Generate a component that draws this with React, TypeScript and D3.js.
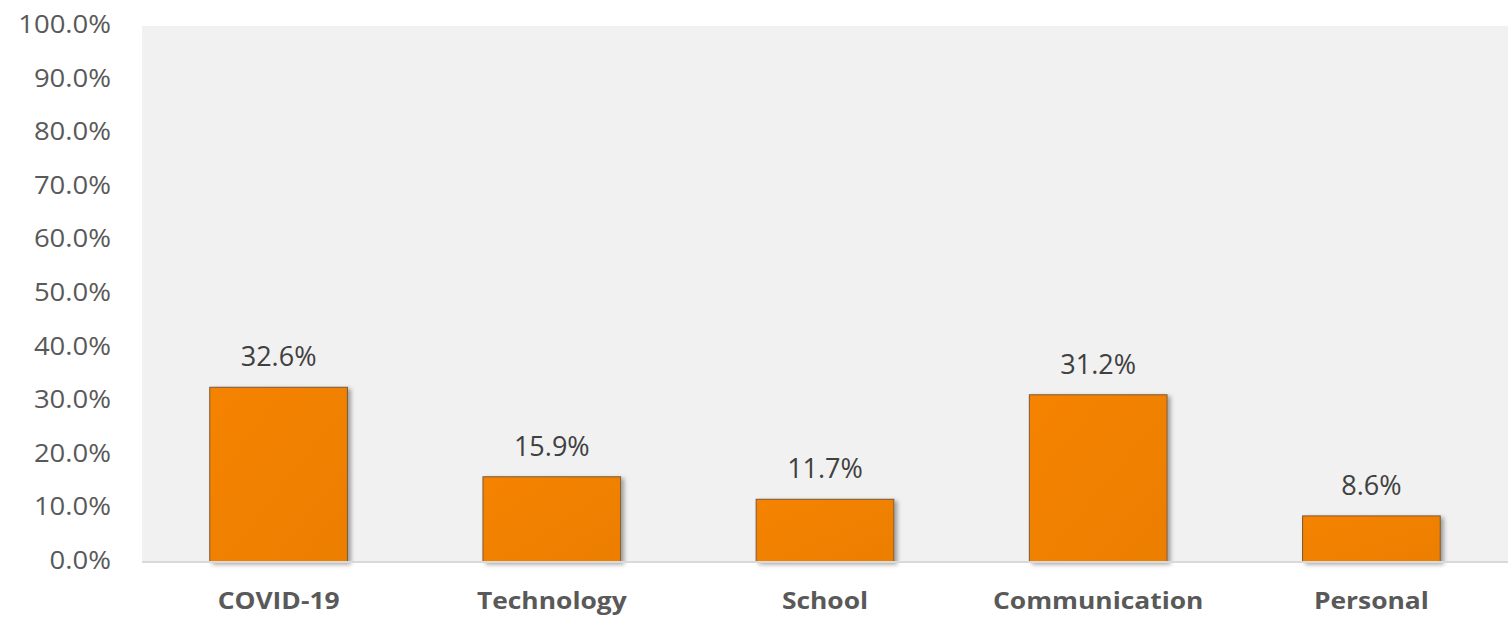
import React from "react";
import * as d3 from "d3";

const categories = ["COVID-19", "Technology", "School", "Communication", "Personal"];
const values = [32.6, 15.9, 11.7, 31.2, 8.6];
const yTicks = [0, 10, 20, 30, 40, 50, 60, 70, 80, 90, 100];

const W = 1508;
const H = 618;
const left = 142;
const right = 1508;
const top = 26;
const bottom = 562;

export default function App() {
  const x = d3.scaleBand<string>().domain(categories).range([left, right]).paddingInner(0.496).paddingOuter(0.248);
  const y = d3.scaleLinear().domain([0, 100]).range([bottom, top]);
  const font = "'Open Sans', 'Liberation Sans', sans-serif";
  return (
    <svg width={W} height={H} style={{ position: "absolute", left: 0, top: 0 }} fontFamily={font}>
      <defs>
        <linearGradient id="barGrad" x1="0" y1="0" x2="1" y2="1">
          <stop offset="0%" stopColor="#F58300" />
          <stop offset="100%" stopColor="#EC7E00" />
        </linearGradient>
        <filter id="shadow" x="-10%" y="-10%" width="130%" height="130%">
          <feDropShadow dx="3" dy="2" stdDeviation="2" floodColor="#000" floodOpacity="0.35" />
        </filter>
      </defs>
      <rect x={0} y={0} width={W} height={H} fill="#ffffff" />
      <rect x={left} y={top} width={right - left} height={bottom - top} fill="#F1F1F1" />
      {yTicks.map((t) => (
        <text
          key={t}
          transform={`translate(111,${y(t) + 7}) scale(1.1,1)`}
          textAnchor="end"
          fontSize={25}
          fill="#595959"
        >
          {t.toFixed(1) + "%"}
        </text>
      ))}
      {categories.map((c, i) => {
        const bx = x(c)!;
        const bw = x.bandwidth();
        const by = y(values[i]);
        return (
          <g key={c}>
            <rect
              x={bx}
              y={by}
              width={bw}
              height={bottom - by}
              fill="url(#barGrad)"
              stroke="#7A5A3A"
              strokeWidth={1}
              filter="url(#shadow)"
            />
            <text x={bx + bw / 2} y={by - 21} textAnchor="middle" fontSize={27} fill="#404040">
              {values[i].toFixed(1) + "%"}
            </text>
            <text
              transform={`translate(${bx + bw / 2},609) scale(1.1,1)`}
              textAnchor="middle"
              fontSize={24}
              fontWeight="bold"
              fill="#595959"
            >
              {c}
            </text>
          </g>
        );
      })}
      <line x1={left} x2={right} y1={bottom} y2={bottom} stroke="#D9D9D9" strokeWidth={2} />
    </svg>
  );
}
